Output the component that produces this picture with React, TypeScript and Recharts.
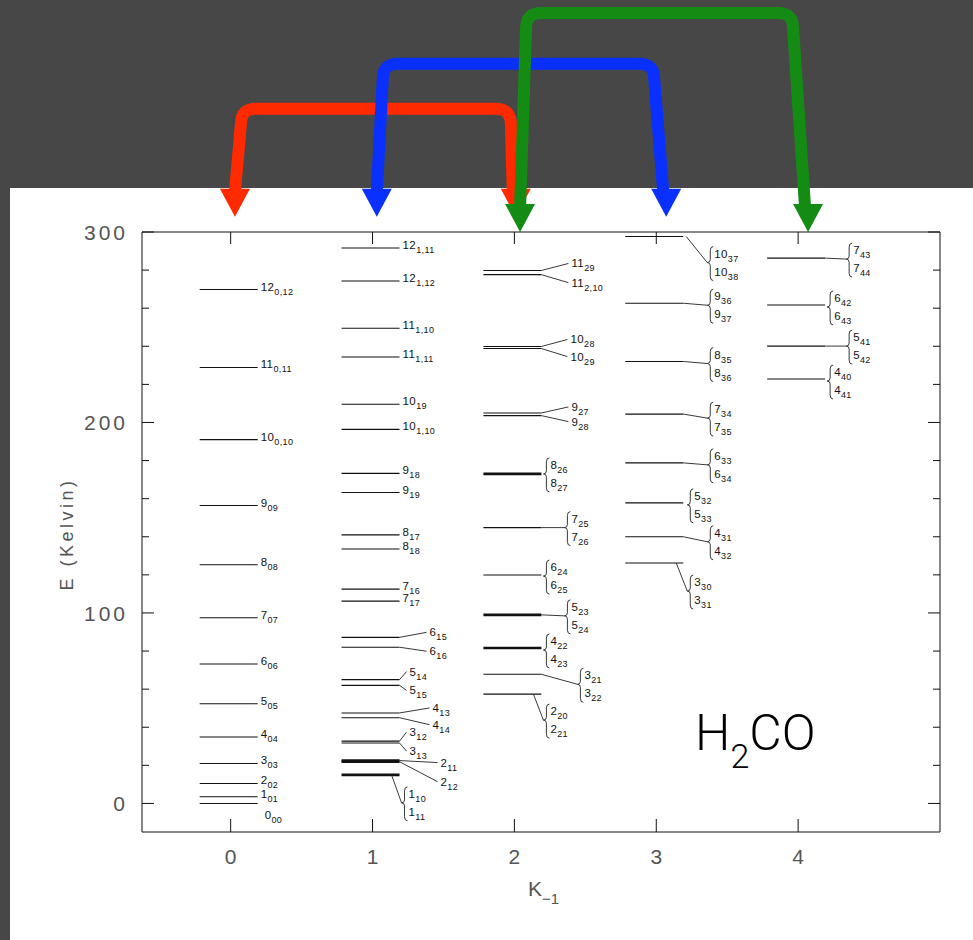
import React from "react";
import { ComposedChart, Scatter, XAxis, YAxis, ReferenceLine, Customized } from "recharts";

const FONT = "'Liberation Sans', Arial, Helvetica, sans-serif";

// H2CO rotational ladders, one per K_-1 value (energies in K).
// "a/b" marks a near-degenerate pair drawn as one line with a brace.
const K0_LEVELS = ["0_00", "1_01", "2_02", "3_03", "4_04", "5_05", "6_06", "7_07", "8_08", "9_09", "10_0,10", "11_0,11", "12_0,12"];
const K0_ENERGY = [0, 3.5, 10.5, 21.0, 34.9, 52.3, 73.2, 97.5, 125.3, 156.4, 191.0, 228.9, 269.8];

const K1_LEVELS = ["1_10/1_11", "2_12", "2_11", "3_13", "3_12", "4_14", "4_13", "5_15", "5_14", "6_16", "6_15", "7_17", "7_16", "8_18", "8_17", "9_19", "9_18", "10_1,10", "10_19", "11_1,11", "11_1,10", "12_1,12", "12_1,11"];
const K1_ENERGY = [15.0, 21.9, 22.5, 31.7, 32.7, 45.0, 47.5, 62.0, 65.0, 82.0, 87.2, 106.2, 112.5, 133.6, 141.0, 163.2, 173.3, 196.4, 209.6, 234.4, 249.5, 274.3, 291.6];

const K2_LEVELS = ["2_20/2_21", "3_21/3_22", "4_22/4_23", "5_23/5_24", "6_24/6_25", "7_25/7_26", "8_26/8_27", "9_28", "9_27", "10_29", "10_28", "11_2,10", "11_29"];
const K2_ENERGY = [57.4, 67.8, 81.6, 99.0, 119.9, 144.8, 173.0, 203.6, 205.0, 238.8, 239.9, 277.6, 279.8];

const K3_LEVELS = ["3_30/3_31", "4_31/4_32", "5_32/5_33", "6_33/6_34", "7_34/7_35", "8_35/8_36", "9_36/9_37", "10_37/10_38"];
const K3_ENERGY = [126.2, 140.0, 157.8, 178.8, 204.4, 232.0, 262.6, 297.6];

const K4_LEVELS = ["4_40/4_41", "5_41/5_42", "6_42/6_43", "7_43/7_44"];
const K4_ENERGY = [222.8, 240.1, 261.7, 286.3];

const K_TICKS = [0, 1, 2, 3, 4];
const E_TICKS = [0, 20, 40, 60, 80, 100, 120, 140, 160, 180, 200, 220, 240, 260, 280, 300];

// Delta K = 2 transitions shown as arrows above the frame
const ARROW_FROM = [0, 1, 2];
const ARROW_TO = [2, 3, 4];

const ARROW_STYLE = [
  { color: "#ff2a00", tip: 308, rise: 108, nudge: [0.03, 0.01], leanR: 5 },
  { color: "#0a30ff", tip: 308, rise: 153, nudge: [0.03, 0.07], leanR: 12 },
  { color: "#148c14", tip: 300, rise: 219, nudge: [0.04, 0.07], leanR: 15 },
];

type Callout =
  | { t: "end" }
  | { t: "below"; dx: number; dy: number }
  | { t: "lead"; dx: number; dy: number; sx?: number }
  | { t: "brace"; dx: number; dy: number; sx?: number };

// label placement, in px from the right end of each level line
const CALLOUTS: Record<string, Callout> = {
  "0_00": { t: "below", dx: 7, dy: 16 },
  "1_10/1_11": { t: "brace", dx: 4, dy: 28, sx: -8 },
  "2_11": { t: "lead", dx: 38, dy: 2 },
  "2_12": { t: "lead", dx: 38, dy: 20 },
  "3_12": { t: "lead", dx: 7, dy: -9 },
  "3_13": { t: "lead", dx: 7, dy: 8 },
  "4_13": { t: "lead", dx: 30, dy: -5 },
  "4_14": { t: "lead", dx: 30, dy: 7 },
  "5_14": { t: "lead", dx: 7, dy: -8 },
  "5_15": { t: "lead", dx: 7, dy: 5 },
  "6_15": { t: "lead", dx: 27, dy: -5 },
  "6_16": { t: "lead", dx: 27, dy: 4 },
  "2_20/2_21": { t: "brace", dx: 4, dy: 26, sx: -8 },
  "3_21/3_22": { t: "brace", dx: 38, dy: 10 },
  "4_22/4_23": { t: "brace", dx: 4, dy: 2 },
  "5_23/5_24": { t: "brace", dx: 25, dy: 1 },
  "6_24/6_25": { t: "brace", dx: 4, dy: 1 },
  "7_25/7_26": { t: "brace", dx: 25, dy: 0 },
  "8_26/8_27": { t: "brace", dx: 4, dy: 0 },
  "9_27": { t: "lead", dx: 27, dy: -6 },
  "9_28": { t: "lead", dx: 27, dy: 6 },
  "10_28": { t: "lead", dx: 26, dy: -7 },
  "10_29": { t: "lead", dx: 26, dy: 8 },
  "11_29": { t: "lead", dx: 27, dy: -7 },
  "11_2,10": { t: "lead", dx: 27, dy: 8 },
  "3_30/3_31": { t: "brace", dx: 6, dy: 28, sx: -7 },
  "4_31/4_32": { t: "brace", dx: 26, dy: 5 },
  "5_32/5_33": { t: "brace", dx: 6, dy: 2 },
  "6_33/6_34": { t: "brace", dx: 26, dy: 2 },
  "7_34/7_35": { t: "brace", dx: 26, dy: 4 },
  "8_35/8_36": { t: "brace", dx: 26, dy: 2 },
  "9_36/9_37": { t: "brace", dx: 26, dy: 2 },
  "10_37/10_38": { t: "brace", dx: 26, dy: 26, sx: 3 },
  "4_40/4_41": { t: "brace", dx: 4, dy: 2 },
  "5_41/5_42": { t: "brace", dx: 23, dy: 0 },
  "6_42/6_43": { t: "brace", dx: 4, dy: 2 },
  "7_43/7_44": { t: "brace", dx: 23, dy: 1 },
};

const BOLD = new Set(["1_10/1_11", "2_11", "2_12", "4_22/4_23", "5_23/5_24", "8_26/8_27"]);

const LINE_L = 31;
const LINE_R = 27;

const ladders: [string[], number[]][] = [
  [K0_LEVELS, K0_ENERGY],
  [K1_LEVELS, K1_ENERGY],
  [K2_LEVELS, K2_ENERGY],
  [K3_LEVELS, K3_ENERGY],
  [K4_LEVELS, K4_ENERGY],
];

const levelData = ladders.flatMap(([names, energies], k) =>
  names.map((name, i) => ({ k, e: energies[i], name }))
);

const StateName = ({ x, y, name }: { x: number; y: number; name: string }) => {
  const [main, sub] = name.split("_");
  return (
    <text x={x} y={y} fontSize={11.5} fontFamily={FONT} fill="#111" letterSpacing={0.4}>
      {main}
      <tspan fontSize={9} dy={4}>
        {sub}
      </tspan>
    </text>
  );
};

const LevelShape = (props: any) => {
  const { cx, cy, payload } = props;
  if (cx == null || cy == null) return null;
  const name: string = payload.name;
  const xe = cx + LINE_R;
  const c: Callout = CALLOUTS[name] ?? { t: "end" };
  const parts: React.ReactNode[] = [
    <line key="lv" x1={cx - LINE_L} x2={xe} y1={cy} y2={cy} stroke="#111" strokeWidth={BOLD.has(name) ? 2.6 : 1.1} />,
  ];

  if (c.t === "end") {
    parts.push(<StateName key="n" x={xe + 3} y={cy + 1} name={name} />);
  } else if (c.t === "below") {
    parts.push(<StateName key="n" x={xe + c.dx} y={cy + c.dy} name={name} />);
  } else if (c.t === "lead") {
    const lx = xe + c.dx;
    const ly = cy + c.dy;
    parts.push(
      <line key="ld" x1={xe + (c.sx ?? 0)} y1={cy} x2={lx} y2={ly} stroke="#222" strokeWidth={0.9} />,
      <StateName key="n" x={lx + 3} y={ly + 4} name={name} />
    );
  } else {
    const bx = xe + c.dx;
    const by = cy + c.dy;
    const [upper, lower] = name.split("/");
    if (Math.abs(c.dx) > 6 || Math.abs(c.dy) > 6) {
      parts.push(
        <line key="ld" x1={xe + (c.sx ?? 0)} y1={cy} x2={bx - 2} y2={by} stroke="#222" strokeWidth={0.9} />
      );
    }
    const d = `M ${bx + 4} ${by - 16} Q ${bx + 1} ${by - 16} ${bx + 1} ${by - 12} L ${bx + 1} ${by - 3} Q ${bx + 1} ${by} ${bx - 2} ${by} Q ${bx + 1} ${by} ${bx + 1} ${by + 3} L ${bx + 1} ${by + 14} Q ${bx + 1} ${by + 18} ${bx + 4} ${by + 18}`;
    parts.push(
      <path key="br" d={d} fill="none" stroke="#222" strokeWidth={0.9} />,
      <StateName key="u" x={bx + 5} y={by - 5} name={upper} />,
      <StateName key="w" x={bx + 5} y={by + 13} name={lower} />
    );
  }
  return <g>{parts}</g>;
};

const LeftTick = (p: any) => {
  const { x, y, payload } = p;
  const major = payload.value % 100 === 0;
  return (
    <g>
      <line x1={x} x2={x + (major ? 12 : 7)} y1={y} y2={y} stroke="#111" />
      {major && (
        <text x={x - 14} y={y + 8} textAnchor="end" fontSize={21} letterSpacing={3} fontFamily={FONT} fill="#555">
          {payload.value}
        </text>
      )}
    </g>
  );
};

const RightTick = (p: any) => {
  const { x, y, payload } = p;
  const major = payload.value % 100 === 0;
  return <line x1={x} x2={x - (major ? 12 : 7)} y1={y} y2={y} stroke="#111" />;
};

const BottomTick = (p: any) => {
  const { x, y, payload } = p;
  return (
    <g>
      <line x1={x} x2={x} y1={y} y2={y - 13} stroke="#111" />
      <text x={x} y={y + 32} textAnchor="middle" fontSize={21} fontFamily={FONT} fill="#555">
        {payload.value}
      </text>
    </g>
  );
};

const TopTick = (p: any) => {
  const { x, y } = p;
  return <line x1={x} x2={x} y1={y} y2={y + 12} stroke="#111" />;
};

const arrowShape = (color: string, rise: number, leanR: number) => (p: any) => {
  const { x1, y1, x2, y2 } = p;
  const head = 28;
  const half = 15;
  const r = 15;
  const lean = 6;
  const barY = y1 - rise;
  const d = `M ${x1} ${y1 - head + 3} L ${x1 + lean} ${barY + r} Q ${x1 + lean} ${barY} ${x1 + lean + r} ${barY} L ${x2 - leanR - r} ${barY} Q ${x2 - leanR} ${barY} ${x2 - leanR} ${barY + r} L ${x2 - 3} ${y2 - head + 3}`;
  return (
    <g>
      <path d={d} fill="none" stroke={color} strokeWidth={12} strokeLinejoin="round" />
      <polygon points={`${x1 - half},${y1 - head} ${x1 + half},${y1 - head} ${x1},${y1}`} fill={color} />
      <polygon points={`${x2 - half},${y2 - head} ${x2 + half},${y2 - head} ${x2},${y2}`} fill={color} />
    </g>
  );
};

const Titles = () => (
  <g fontFamily={FONT}>
    <text transform="translate(73,534) rotate(-90)" textAnchor="middle" fontSize={18} letterSpacing={3.5} fill="#555">
      E (Kelvin)
    </text>
    <text x={528} y={896} fontSize={21} fill="#555">
      K
      <tspan fontSize={15} dy={8}>
        −1
      </tspan>
    </text>
    <text x={695} y={750} fontSize={50} fill="#000" fontFamily="Roboto, 'Liberation Sans', sans-serif" fontWeight={300}>
      H
      <tspan fontSize={34} dy={18}>
        2
      </tspan>
      <tspan dy={-18}>CO</tspan>
    </text>
  </g>
);

const App: React.FC = () => {
  return (
    <div style={{ position: "absolute", left: 0, top: 0, width: 973, height: 940, background: "#474747", overflow: "hidden" }}>
      <div style={{ position: "absolute", left: 10, top: 188, width: 963, height: 752, background: "#ffffff" }} />
      <div style={{ position: "absolute", left: 0, top: 0 }}>
        <ComposedChart width={973} height={940} data={levelData} margin={{ top: 230, right: 30, bottom: 68, left: 62 }}>
          <XAxis
            xAxisId="b"
            dataKey="k"
            type="number"
            domain={[-0.625, 5]}
            allowDataOverflow
            ticks={K_TICKS}
            height={40}
            tickSize={0}
            tickMargin={0}
            tickLine={false}
            axisLine={{ stroke: "#111" }}
            tick={(p: any) => <BottomTick {...p} />}
          />
          <XAxis
            xAxisId="t"
            orientation="top"
            dataKey="k"
            type="number"
            domain={[-0.625, 5]}
            allowDataOverflow
            ticks={K_TICKS}
            height={2}
            tickSize={0}
            tickMargin={0}
            tickLine={false}
            axisLine={{ stroke: "#111" }}
            tick={(p: any) => <TopTick {...p} />}
          />
          <YAxis
            yAxisId="l"
            dataKey="e"
            type="number"
            domain={[-15, 300]}
            allowDataOverflow
            ticks={E_TICKS}
            width={80}
            tickSize={0}
            tickMargin={0}
            tickLine={false}
            axisLine={{ stroke: "#111" }}
            tick={(p: any) => <LeftTick {...p} />}
          />
          <YAxis
            yAxisId="r"
            orientation="right"
            dataKey="e"
            type="number"
            domain={[-15, 300]}
            allowDataOverflow
            ticks={E_TICKS}
            width={3}
            tickSize={0}
            tickMargin={0}
            tickLine={false}
            axisLine={{ stroke: "#111" }}
            tick={(p: any) => <RightTick {...p} />}
          />
          <Scatter
            xAxisId="b"
            yAxisId="l"
            data={levelData}
            dataKey="e"
            shape={(p: any) => <LevelShape {...p} />}
            isAnimationActive={false}
          />
          {ARROW_FROM.map((from, i) => {
            const s = ARROW_STYLE[i];
            return (
              <ReferenceLine
                key={`arrow-${i}`}
                xAxisId="b"
                yAxisId="l"
                ifOverflow="visible"
                segment={[
                  { x: from + s.nudge[0], y: s.tip },
                  { x: ARROW_TO[i] + s.nudge[1], y: s.tip },
                ]}
                shape={arrowShape(s.color, s.rise, s.leanR)}
              />
            );
          })}
          <Customized component={<Titles />} />
        </ComposedChart>
      </div>
    </div>
  );
};

export default App;
